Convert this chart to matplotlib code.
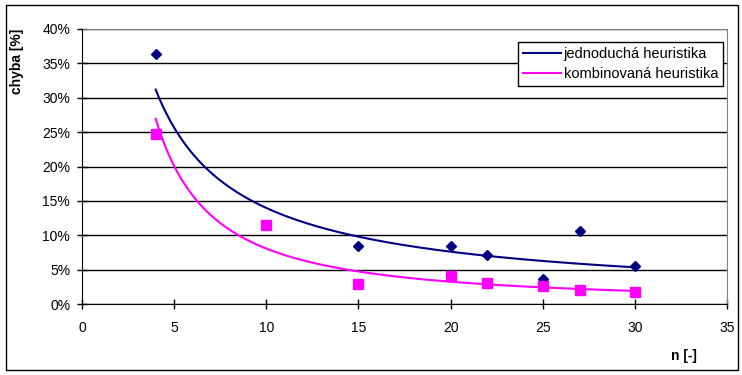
import numpy as np
import matplotlib.pyplot as plt
from matplotlib.patches import Rectangle
from matplotlib.ticker import FuncFormatter

# data (chyba in %)
n_vals = [4, 10, 15, 20, 22, 25, 27, 30]
simple_err = [36.3, 11.5, 8.5, 8.4, 7.1, 3.6, 10.6, 5.5]
combined_err = [24.8, 11.5, 2.9, 4.1, 3.0, 2.6, 2.0, 1.8]

x_ticks = [0, 5, 10, 15, 20, 25, 30, 35]
y_ticks = [0, 5, 10, 15, 20, 25, 30, 35, 40]

NAVY = '#000080'
PINK = '#FF00FF'

plt.rcParams['font.family'] = ['Liberation Sans', 'DejaVu Sans']


def power_fit(x, y):
    # power trendline y = a * x^b (least squares in log space)
    b, lna = np.polyfit(np.log(x), np.log(y), 1)
    xs = np.linspace(min(x), max(x), 200)
    return xs, np.exp(lna) * xs ** b


fig = plt.figure(figsize=(7.42, 3.75), dpi=100)
ax = fig.add_axes([82 / 742, 1 - 304 / 375, 645 / 742, 275 / 375])

# trendlines
xs, ys = power_fit(n_vals, simple_err)
line1, = ax.plot(xs, ys, color=NAVY, lw=1.5, label='jednoduchá heuristika', zorder=3)
xs, ys = power_fit(n_vals, combined_err)
line2, = ax.plot(xs, ys, color=PINK, lw=1.5, label='kombinovaná heuristika', zorder=3)

# measured points
ax.plot(n_vals, simple_err, linestyle='none', marker='D', ms=5.5,
        color=NAVY, zorder=4)
ax.plot(n_vals, combined_err, linestyle='none', marker='s', ms=6.5,
        color=PINK, zorder=5)

ax.set_xlim(0, 35)
ax.set_ylim(0, 40)
ax.set_xticks(x_ticks)
ax.set_yticks(y_ticks)
ax.yaxis.set_major_formatter(FuncFormatter(lambda v, p: '%d%%' % v))
ax.grid(True, axis='y', color='black', lw=1)
ax.set_axisbelow(True)

ax.tick_params(direction='inout', length=7, width=1, labelsize=10, colors='black')
ax.tick_params(axis='x', pad=9)
ax.tick_params(axis='y', pad=5)

for side in ['top', 'right']:
    ax.spines[side].set_color('#808080')
for side in ['left', 'bottom']:
    ax.spines[side].set_color('black')
    ax.spines[side].set_zorder(6)

leg = ax.legend(handles=[line1, line2], loc='upper right',
                bbox_to_anchor=(0.994, 0.952), fontsize=10.5, frameon=True,
                fancybox=False, borderpad=0.35, handlelength=2.6,
                handletextpad=0.2, labelspacing=0.4, borderaxespad=0)
leg.get_frame().set_edgecolor('black')
leg.get_frame().set_linewidth(1)
leg.get_frame().set_alpha(1)

fig.text(17 / 742, 1 - 61 / 375, 'chyba [%]', rotation=90, ha='center',
         va='center', fontsize=10, fontweight='bold')
fig.text(684 / 742, 1 - 356 / 375, 'n [-]', ha='center', va='center',
         fontsize=10, fontweight='bold')

# chart area border
fig.patches.append(Rectangle((6 / 742, 5 / 375), 732 / 742, 365 / 375,
                             transform=fig.transFigure, fill=False,
                             edgecolor='black', lw=1))

plt.savefig('out.png', dpi=100)
